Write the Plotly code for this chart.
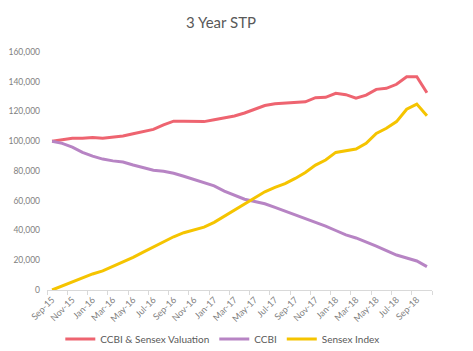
import plotly.graph_objects as go

months = ["Sep-15","Oct-15","Nov-15","Dec-15","Jan-16","Feb-16","Mar-16","Apr-16","May-16","Jun-16",
          "Jul-16","Aug-16","Sep-16","Oct-16","Nov-16","Dec-16","Jan-17","Feb-17","Mar-17","Apr-17",
          "May-17","Jun-17","Jul-17","Aug-17","Sep-17","Oct-17","Nov-17","Dec-17","Jan-18","Feb-18",
          "Mar-18","Apr-18","May-18","Jun-18","Jul-18","Aug-18","Sep-18","Oct-18"]

valuation = [100000,101000,102000,102000,102500,102000,102500,103500,105000,106500,
             108000,111000,113500,113500,113500,113200,114500,115500,117000,119000,
             121500,124000,125200,125500,126000,126500,129300,129500,132200,131300,
             128900,131000,134900,135600,138300,143400,143400,132600]

ccbi = [100000,98600,96000,92500,90000,88000,86800,86000,84000,82500,
        80500,79800,78500,76500,74500,72500,70000,66500,63500,61000,
        59500,58000,55500,53000,50800,48500,45900,43000,40000,37000,
        35000,32500,29500,26500,23500,21500,19500,15700]

sensex = [0,2800,5600,8200,10800,12800,15800,18500,22000,25500,
          29000,32500,35800,38500,40500,42300,45500,49500,53500,57500,
          62000,66000,69000,71500,75000,79000,84000,87400,92500,93800,
          94800,98600,105300,108700,113200,121500,125000,117200]

series_names = ["CCBI & Sensex Valuation", "CCBI", "Sensex Index"]
series_colors = ["#EE6470", "#B784C4", "#F5C400"]

x = list(range(len(months)))
label_idx = x[::2]

fig = go.Figure()
for name, vals, col in zip(series_names, [valuation, ccbi, sensex], series_colors):
    fig.add_trace(go.Scatter(x=x, y=vals, mode="lines", name=name,
                             line=dict(color=col, width=3)))

font_family = "Lato, DejaVu Sans, sans-serif"
fig.update_layout(
    width=473, height=351,
    margin=dict(l=47, r=41, t=52, b=61),
    paper_bgcolor="white", plot_bgcolor="white",
    font=dict(family=font_family, color="#7f7f7f", size=9),
    title=dict(text="3 Year STP", x=221/473, xanchor="center", y=1-23/351, yanchor="middle",
               font=dict(size=15, color="#595959", family=font_family)),
    showlegend=True,
    legend=dict(orientation="h", yref="container", y=0.034, yanchor="middle",
                xref="container", x=0.47, xanchor="center",
                font=dict(size=10, color="#595959"), itemwidth=30, tracegroupgap=0),
    xaxis=dict(range=[-0.5, len(months)-0.5], tickmode="array",
               tickvals=label_idx, ticktext=[months[i] for i in label_idx],
               tickangle=-45, ticks="", showgrid=False, zeroline=False,
               showline=True, linecolor="#d9d9d9", linewidth=1, automargin=False,
               tickfont=dict(size=9, color="#7f7f7f"),
               minor=dict(tickmode="linear", tick0=-0.5, dtick=2, ticks="outside",
                          ticklen=4, tickcolor="#d9d9d9", showgrid=False)),
    yaxis=dict(range=[0, 160000], tickmode="linear", tick0=0, dtick=20000,
               tickformat=",", showgrid=False, zeroline=False, showline=False, automargin=False,
               ticks="", tickfont=dict(size=8.5, color="#7f7f7f"), ticklabelstandoff=6),
)

fig.write_html("out.html")
